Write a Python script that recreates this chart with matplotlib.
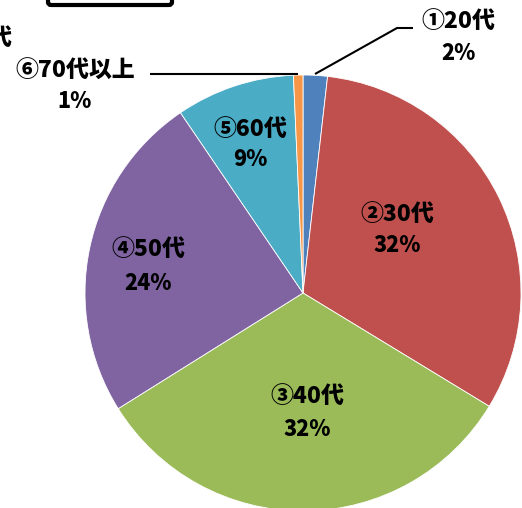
import matplotlib
matplotlib.use("Agg")
import matplotlib.pyplot as plt
from matplotlib.patches import FancyBboxPatch

plt.rcParams['font.family'] = ['Noto Sans CJK JP', 'DejaVu Sans']

categories = ["①20代", "②30代", "③40代", "④50代", "⑤60代", "⑥70代以上"]
values = [1.8, 31.9, 32.4, 24.4, 8.8, 0.7]
colors = ["#4F81BD", "#C0504D", "#9BBB59", "#8064A2", "#4BACC6", "#F79646"]

W, H = 522, 508
fig = plt.figure(figsize=(W / 100, H / 100), dpi=100)
ax = fig.add_axes([0, 0, 1, 1])

cx, cy, r = 303, H - 293, 218
ax.pie(values, colors=colors, startangle=90, counterclock=False,
       center=(cx, cy), radius=r, frame=True,
       wedgeprops=dict(edgecolor='white', linewidth=0.6))
ax.set_xlim(0, W)
ax.set_ylim(0, H)
ax.set_aspect('equal')
ax.axis('off')

def Y(y):
    return H - y

total = sum(values)
pcts = [f"{round(v / total * 100):.0f}%" for v in values]

label_pos = [(458, 21, 53), (397, 214, 245), (307, 396, 430),
             (148, 249, 283), (250, 129, 160), (75, 71, 101)]
fs = 16.5
for (x, y1, y2), cat, p in zip(label_pos, categories, pcts):
    ax.text(x, Y(y1), cat, ha='center', va='center', fontsize=fs, fontweight='heavy', color='black')
    ax.text(x, Y(y2), p, ha='center', va='center', fontsize=fs - 1, fontweight='heavy', color='black')

# leader lines
ax.plot([315, 397, 413], [Y(74), Y(28), Y(28)], color='black', lw=1.5, solid_capstyle='butt')
ax.plot([150, 298], [Y(74), Y(74)], color='black', lw=1.5, solid_capstyle='butt')

# cropped fragment of another label at the left edge
ax.text(0, Y(38), "代", ha='center', va='center', fontsize=fs, fontweight='heavy', color='black')

# cropped box at top
box = FancyBboxPatch((48, Y(5)), 124, 40, boxstyle="round,pad=0,rounding_size=3",
                     facecolor='white', edgecolor='black', linewidth=3, clip_on=True)
ax.add_patch(box)

fig.savefig("out.png", dpi=100)
